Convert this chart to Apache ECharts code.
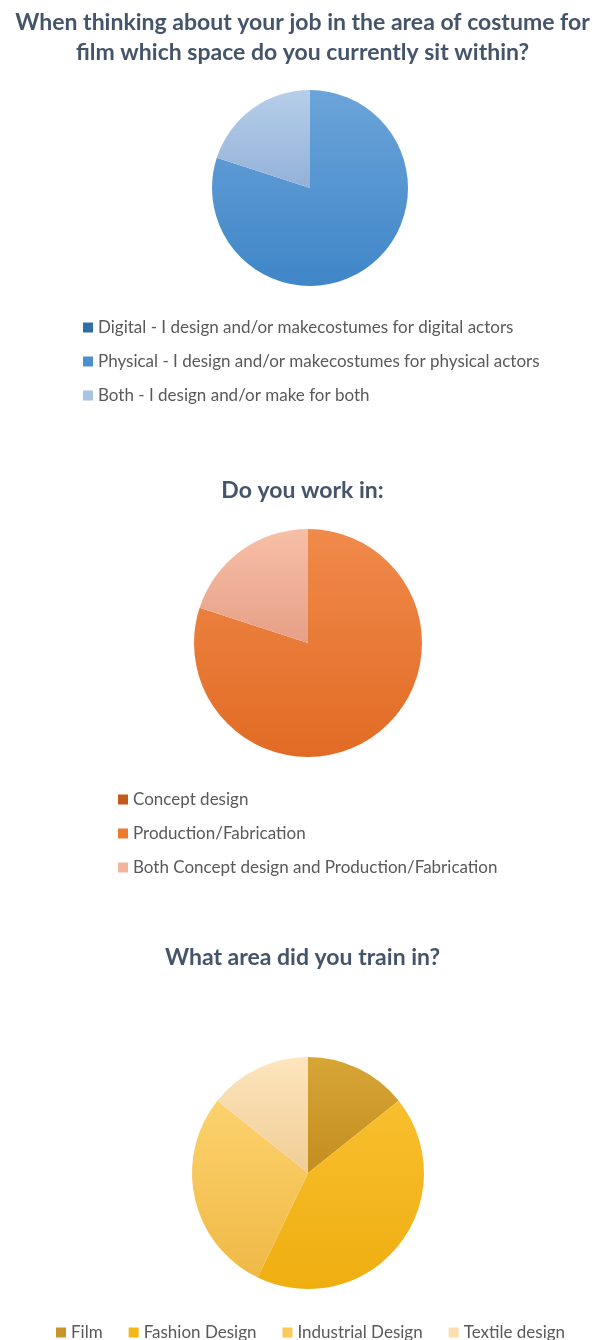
<!DOCTYPE html>
<html>
<head>
<meta charset="utf-8">
<script src="https://cdn.jsdelivr.net/npm/echarts@6/dist/echarts.min.js"></script>
<style>
  html, body { margin: 0; padding: 0; background: #fff; }
  #chart { width: 605px; height: 1340px; }
</style>
</head>
<body>
<div id="chart"></div>
<script>
// survey answers (counts)
const spaceNames = [
  'Digital - I design and/or makecostumes for digital actors',
  'Physical - I design and/or makecostumes for physical actors',
  'Both - I design and/or make for both',
]
const spaceValues = [0, 4, 1]

const workNames = [
  'Concept design',
  'Production/Fabrication',
  'Both Concept design and Production/Fabrication',
]
const workValues = [0, 4, 1]

const trainNames = ['Film', 'Fashion Design', 'Industrial Design', 'Textile design']
const trainValues = [1, 3, 2, 1]

// [legend colour, gradient top, gradient bottom]
const spaceColors = [
  ['#2f6ea8', '#3d7cb8', '#2c6aa3'],
  ['#4b8fd0', '#6ba4d9', '#3f86c8'],
  ['#a9c3e4', '#b6cee9', '#93b1d8'],
]
const workColors = [
  ['#c55a1c', '#cf6a2c', '#b9521a'],
  ['#ee7a30', '#f08a4b', '#e26b24'],
  ['#f2b49b', '#f7bfa7', '#e6a086'],
]
const trainColors = [
  ['#c8952a', '#d6a636', '#c48d1f'],
  ['#f5b618', '#f8bf2e', '#efae10'],
  ['#fbc95a', '#fcd26d', '#f0b946'],
  ['#fbdfae', '#fde5bd', '#f1cd96'],
]

const grad = (c) => new echarts.graphic.LinearGradient(0, 0, 0, 1, [
  { offset: 0, color: c[1] },
  { offset: 1, color: c[2] },
])

const toData = (names, values, colors) =>
  names.map((n, i) => ({ name: n, value: values[i], itemStyle: { color: grad(colors[i]) } }))

const legendData = (names, colors) =>
  names.map((n, i) => ({ name: n, itemStyle: { color: colors[i][0] } }))

const titleStyle = { color: '#44546a', fontSize: 23, fontWeight: 'bold', fontFamily: 'Lato', lineHeight: 30 }
const legendText = { color: '#595959', fontSize: 17, fontFamily: 'Lato' }

const pieBase = {
  type: 'pie',
  startAngle: 90,
  clockwise: true,
  label: { show: false },
  labelLine: { show: false },
  emphasis: { disabled: true },
  itemStyle: { borderWidth: 0 },
  animation: false,
}

const chart = echarts.init(document.getElementById('chart'))
chart.setOption({
  backgroundColor: '#fff',
  title: [
    { text: 'When thinking about your job in the area of costume for\nfilm which space do you currently sit within?', left: 'center', top: 3, textStyle: titleStyle },
    { text: 'Do you work in:', left: 'center', top: 471, textStyle: titleStyle },
    { text: 'What area did you train in?', left: 'center', top: 938, textStyle: titleStyle },
  ],
  legend: [
    {
      orient: 'vertical', left: 78, top: 314, itemWidth: 10, itemHeight: 10, itemGap: 17,
      icon: 'rect', textStyle: legendText, selectedMode: false,
      data: legendData(spaceNames, spaceColors),
    },
    {
      orient: 'vertical', left: 113, top: 786, itemWidth: 10, itemHeight: 10, itemGap: 17,
      icon: 'rect', textStyle: legendText, selectedMode: false,
      data: legendData(workNames, workColors),
    },
    {
      orient: 'horizontal', left: 51, top: 1319, itemWidth: 10, itemHeight: 10, itemGap: 26,
      icon: 'rect', textStyle: legendText, selectedMode: false,
      data: legendData(trainNames, trainColors),
    },
  ],
  series: [
    { ...pieBase, name: 'space', center: [310, 188], radius: [0, 98], data: toData(spaceNames, spaceValues, spaceColors) },
    { ...pieBase, name: 'work', center: [308, 643], radius: [0, 114], data: toData(workNames, workValues, workColors) },
    { ...pieBase, name: 'train', center: [308, 1173], radius: [0, 116], data: toData(trainNames, trainValues, trainColors) },
  ],
})

window.addEventListener('resize', () => chart.resize())
</script>
</body>
</html>
